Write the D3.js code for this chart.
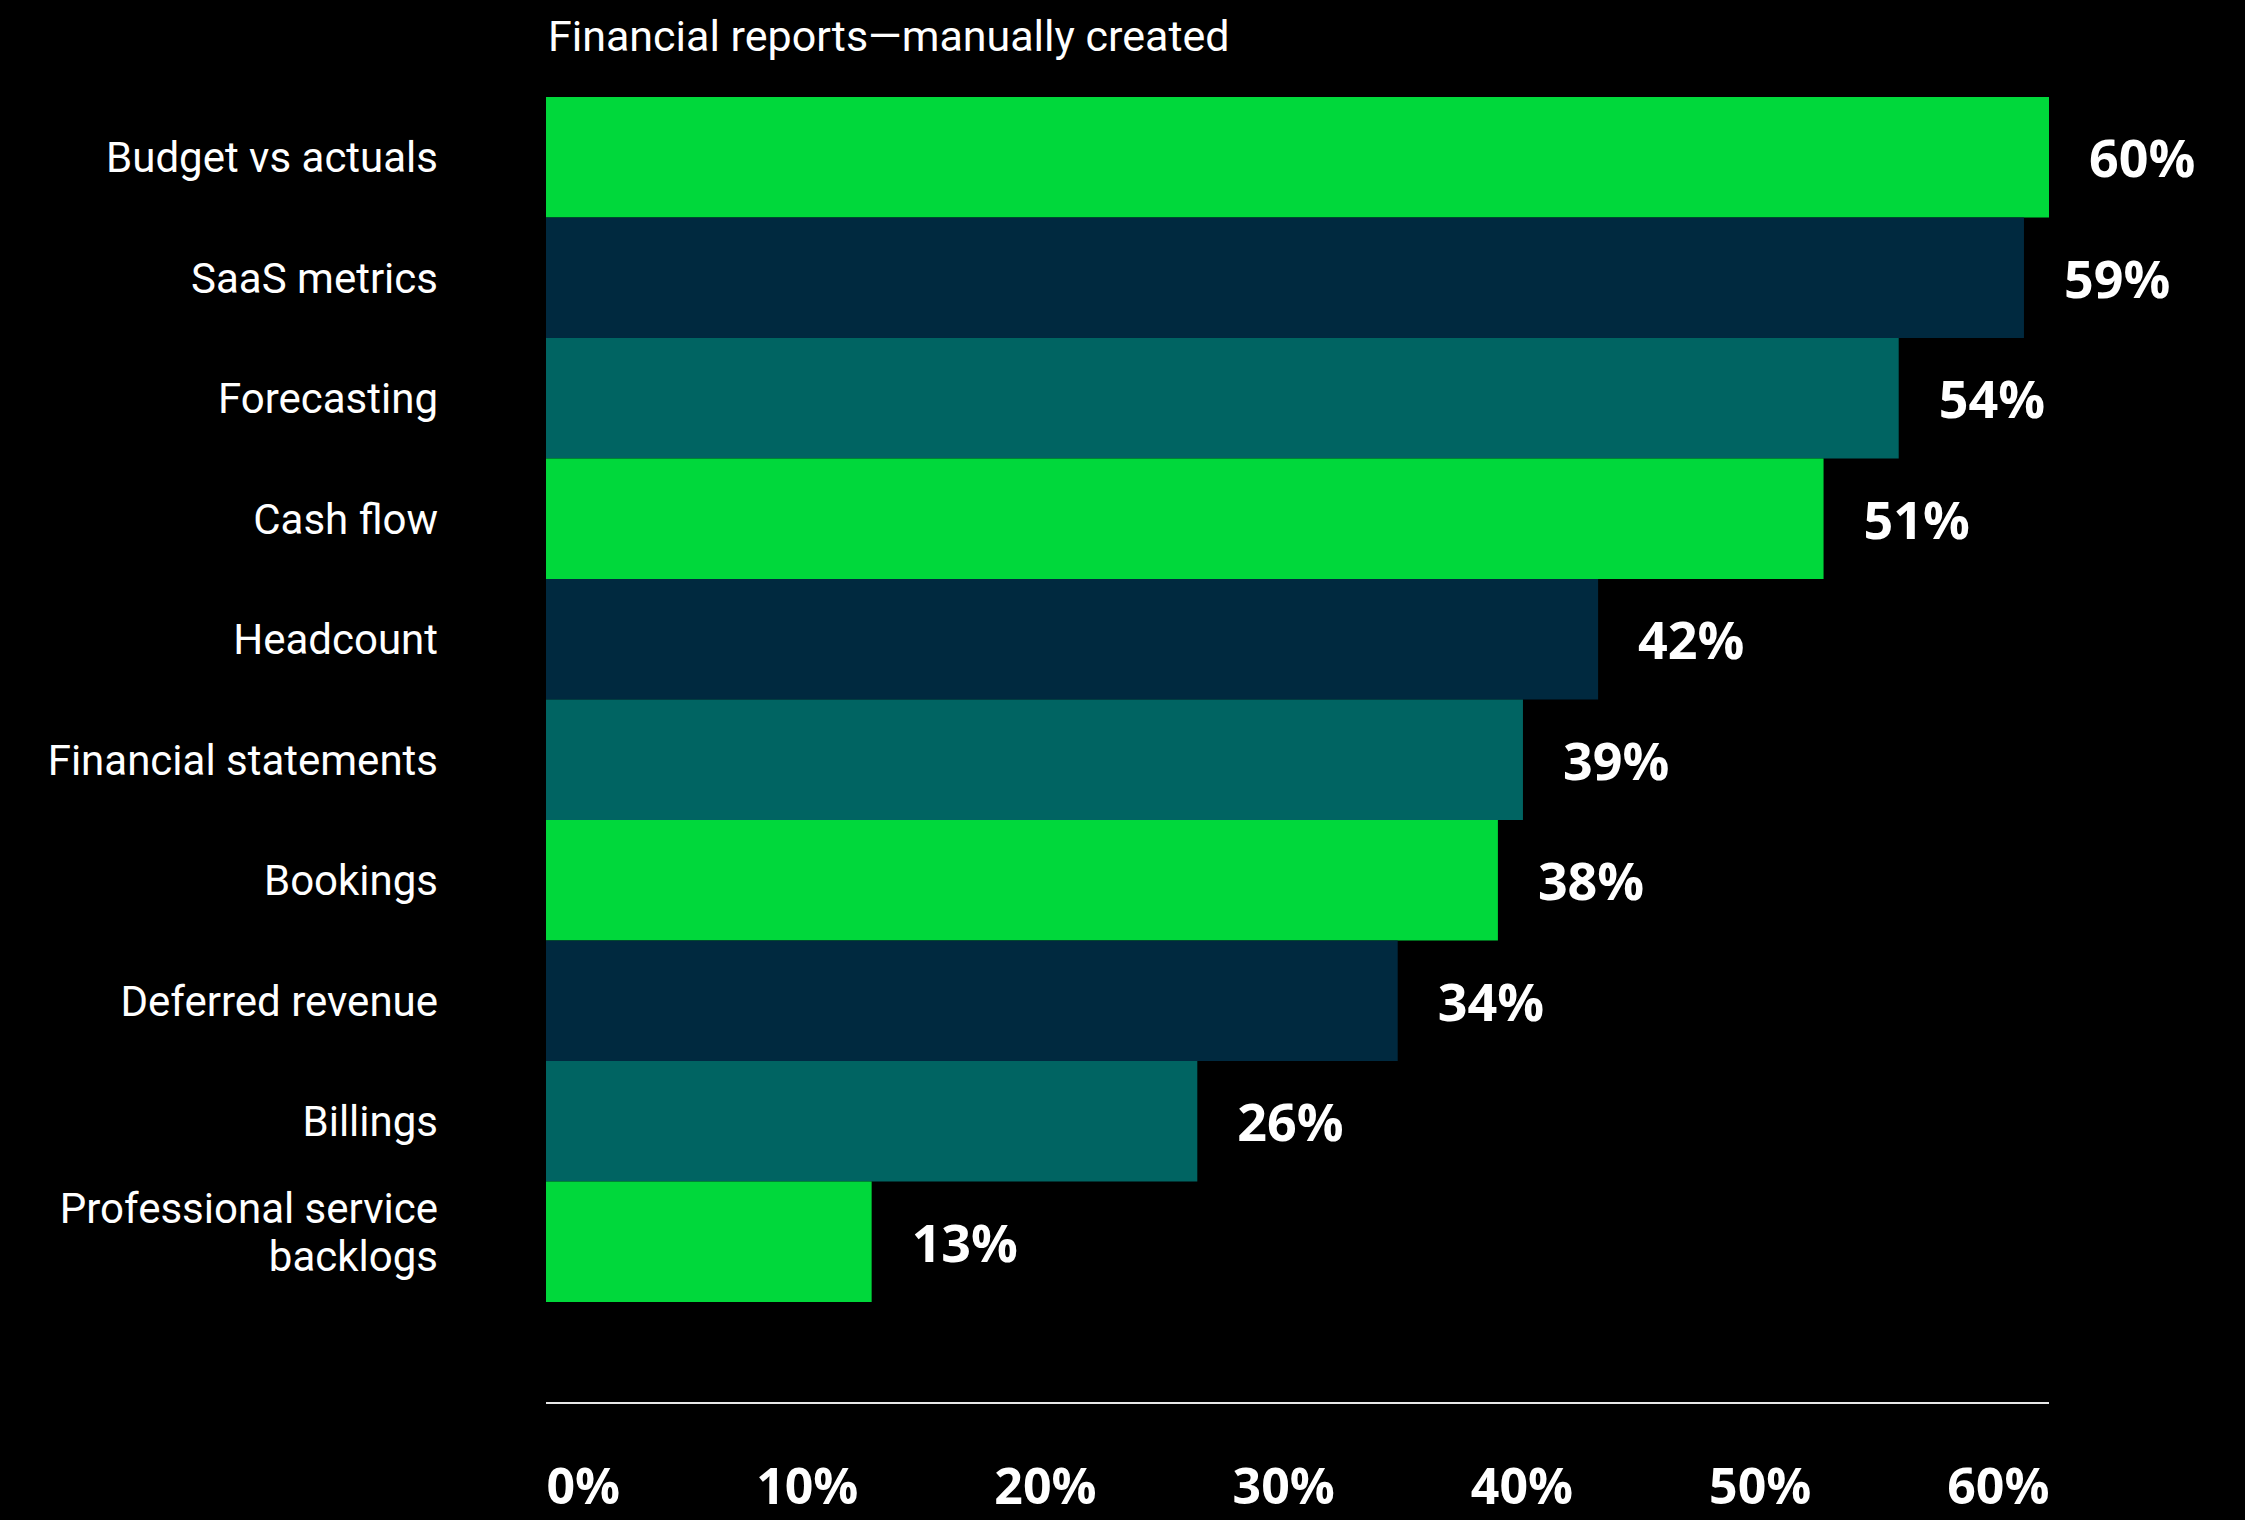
<!DOCTYPE html>
<html>
<head>
<meta charset="utf-8">
<script src="https://cdn.jsdelivr.net/npm/d3@7"></script>
<style>
  html, body { margin: 0; padding: 0; background: #000; }
  svg { display: block; }
</style>
</head>
<body>
<svg id="chart" width="2245" height="1520"></svg>
<script>
// ---- data ----
const title = "Financial reports\u2014manually created";
const categories = [
  "Budget vs actuals",
  "SaaS metrics",
  "Forecasting",
  "Cash flow",
  "Headcount",
  "Financial statements",
  "Bookings",
  "Deferred revenue",
  "Billings",
  "Professional service\nbacklogs"
];
const values = [60, 59, 54, 51, 42, 39, 38, 34, 26, 13];
const tickValues = [0, 10, 20, 30, 40, 50, 60];
const barColors = ["#00d83b", "#00293f", "#006462"];

// ---- layout ----
const svg = d3.select("#chart");
const W = 2245, H = 1520;
svg.append("rect").attr("width", W).attr("height", H).attr("fill", "#000");

const plotLeft = 546, plotRight = 2049, plotTop = 97, plotBottom = 1302;
const x = d3.scaleLinear().domain([0, 60]).range([plotLeft, plotRight]);
const y = d3.scaleBand().domain(categories).range([plotTop, plotBottom]).padding(0);

const labelFont = "Roboto, 'Open Sans', sans-serif";
const boldFont = "'Open Sans', Roboto, sans-serif";

// title
svg.append("text")
  .attr("x", plotLeft + 2).attr("y", 51)
  .attr("fill", "#fff")
  .attr("font-family", labelFont)
  .attr("font-size", 43)
  .text(title);

// bars
svg.append("g").selectAll("rect")
  .data(categories)
  .join("rect")
  .attr("x", x(0))
  .attr("y", d => y(d))
  .attr("width", (d, i) => x(values[i]) - x(0))
  .attr("height", y.bandwidth())
  .attr("fill", (d, i) => barColors[i % 3]);

// value labels
svg.append("g").selectAll("text")
  .data(categories)
  .join("text")
  .attr("x", (d, i) => x(values[i]) + 40)
  .attr("y", d => y(d) + y.bandwidth() / 2 + 20)
  .attr("fill", "#fff")
  .attr("font-family", boldFont)
  .attr("font-weight", 700)
  .attr("font-size", 52)
  .text((d, i) => values[i] + "%");

// category labels (y axis)
const yAxis = d3.axisLeft(y).tickSize(0).tickPadding(0);
const yg = svg.append("g").attr("transform", `translate(438,0)`).call(yAxis);
yg.select(".domain").remove();
yg.selectAll(".tick text")
  .attr("fill", "#fff")
  .attr("font-family", labelFont)
  .attr("font-size", 42)
  .attr("text-anchor", "end")
  .attr("x", 0)
  .attr("dy", null)
  .each(function(d) {
    const t = d3.select(this);
    const lines = d.split("\n");
    t.text(null);
    const lh = 48;
    const shift = lines.length > 1 ? -10 : 0;
    lines.forEach((ln, k) => {
      t.append("tspan")
        .attr("x", 0)
        .attr("y", (k - (lines.length - 1) / 2) * lh + 15 + shift)
        .text(ln);
    });
  });

// x axis line
svg.append("line")
  .attr("x1", plotLeft).attr("x2", plotRight)
  .attr("y1", 1403).attr("y2", 1403)
  .attr("stroke", "#e8e8e8").attr("stroke-width", 2);

// x axis tick labels
const xAxis = d3.axisBottom(x).tickValues(tickValues).tickSize(0).tickFormat(d => d + "%");
const xg = svg.append("g").attr("transform", `translate(0,1504)`).call(xAxis);
xg.select(".domain").remove();
const tickTexts = xg.selectAll(".tick text")
  .attr("fill", "#fff")
  .attr("font-family", boldFont)
  .attr("font-weight", 700)
  .attr("font-size", 50)
  .attr("dy", 0)
  .attr("y", 0)
  .attr("text-anchor", "start");
// spread labels edge to edge (space-between)
const nodes = tickTexts.nodes();
const widths = nodes.map(n => n.getComputedTextLength());
const gap = ((plotRight - plotLeft) - d3.sum(widths)) / (nodes.length - 1);
let cursor = plotLeft;
nodes.forEach((n, i) => {
  const tx = x(tickValues[i]);
  d3.select(n).attr("x", cursor - tx);
  cursor += widths[i] + gap;
});
</script>
</body>
</html>
